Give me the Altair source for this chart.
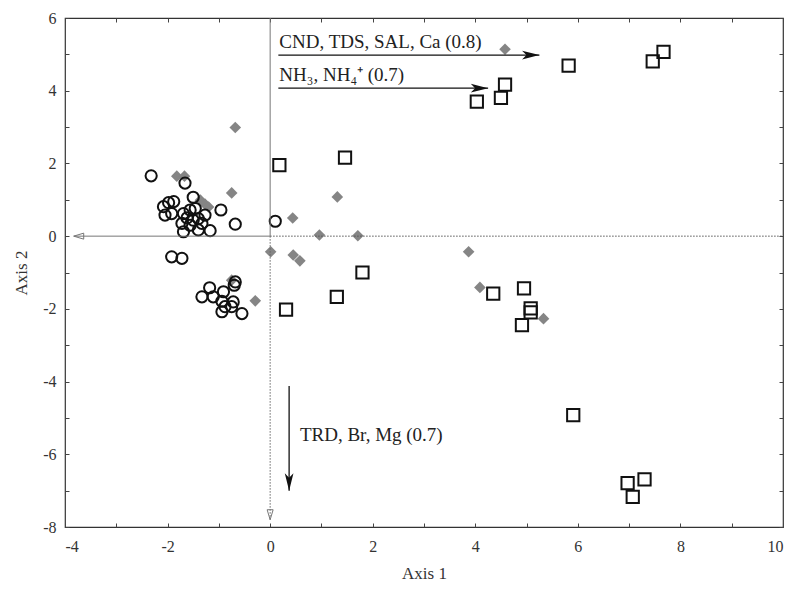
import altair as alt
import pandas as pd

# ---------------- data ----------------
circle_x = [-2.32, -1.66, -1.50, -0.96, -0.68, 0.10, -1.98, -2.08, -1.92, -2.05, -1.69, -1.72,
            -1.69, -1.56, -1.50, -1.33, -1.40, -1.17, -1.27, -1.56, -1.46, -1.88, -1.62, -1.40,
            -1.92, -1.72, -1.18, -1.33, -1.11, -0.91, -0.94, -0.88, -0.72, -0.75, -0.94, -0.55,
            -0.68, -0.70]
circle_y = [1.66, 1.46, 1.07, 0.72, 0.33, 0.41, 0.92, 0.81, 0.62, 0.58, 0.62, 0.35,
            0.12, 0.72, 0.44, 0.35, 0.17, 0.15, 0.58, 0.30, 0.76, 0.95, 0.50, 0.48,
            -0.57, -0.61, -1.42, -1.67, -1.67, -1.53, -1.79, -1.94, -1.81, -1.94, -2.08, -2.13,
            -1.26, -1.35]

square_x = [0.18, 1.46, 1.80, 1.30, 0.31, 5.82, 7.46, 7.67, 4.58, 4.50, 4.03, 4.35, 4.95,
            5.08, 5.08, 4.91, 5.91, 6.97, 7.30, 7.07]
square_y = [1.95, 2.16, -1.00, -1.67, -2.02, 4.69, 4.81, 5.07, 4.17, 3.80, 3.70, -1.58, -1.44,
            -1.99, -2.10, -2.45, -4.92, -6.79, -6.69, -7.17]

diamond_x = [-0.68, -1.82, -1.67, -0.75, -1.36, -1.27, -1.20, 0.44, 0.96, 1.71, 1.31, 0.01,
             0.45, 0.58, -0.29, -0.75, 4.58, 3.87, 4.09, 5.33]
diamond_y = [2.99, 1.65, 1.65, 1.19, 0.99, 0.88, 0.80, 0.50, 0.03, 0.01, 1.08, -0.43,
             -0.52, -0.68, -1.78, -1.21, 5.14, -0.43, -1.41, -2.27]

# environmental vectors (biplot arrows)
vec_label = ["CND, TDS, SAL, Ca (0.8)", "NH\u2083, NH\u2084\u207a (0.7)", "TRD, Br, Mg (0.7)"]
vec_x0 = [0.16, 0.16, 0.37]
vec_y0 = [4.98, 4.07, -4.12]
vec_x1 = [5.25, 4.25, 0.37]
vec_y1 = [4.98, 4.07, -7.00]
vec_lx = [0.18, 0.18, 0.58]
vec_ly = [4.98, 4.07, -5.47]

# axis arrows (grey, open heads)
axis_arrow_x1 = [-3.83, 0.0]
axis_arrow_y1 = [0.0, -7.80]

x_ticks_major = [-4, -2, 0, 2, 4, 6, 8, 10]
y_ticks_major = [-8, -6, -4, -2, 0, 2, 4, 6]
x_ticks_minor = list(range(-4, 11))
y_ticks_minor = list(range(-8, 7))

FONT = "Liberation Serif"

# ---------------- frames ----------------
df_c = pd.DataFrame({"x": circle_x, "y": circle_y})
df_s = pd.DataFrame({"x": square_x, "y": square_y})
df_d = pd.DataFrame({"x": diamond_x, "y": diamond_y})
df_v = pd.DataFrame({"label": vec_label, "x0": vec_x0, "y0": vec_y0,
                     "x1": vec_x1, "y1": vec_y1, "lx": vec_lx, "ly": vec_ly})
df_vh = df_v.iloc[:2]
df_vv = df_v.iloc[2:]
df_a = pd.DataFrame({"x0": [0.0, 0.0], "y0": [0.0, 0.0],
                     "x1": axis_arrow_x1, "y1": axis_arrow_y1})

xs = alt.Scale(domain=[-4, 10], nice=False, zero=False)
ys = alt.Scale(domain=[-8, 6], nice=False, zero=False)

hyphen = "replace(datum.label, '\u2212', '-')"
label_x_axis = alt.Axis(values=x_ticks_major, ticks=False, domain=False, grid=False,
                        labelPadding=11, title="Axis 1", titlePadding=11, labelExpr=hyphen,
                        labelFont=FONT, titleFont=FONT, labelFontSize=16, titleFontSize=17,
                        labelColor="#333", titleColor="#333", titleFontWeight="normal")
label_y_axis = alt.Axis(values=y_ticks_major, ticks=False, domain=False, grid=False,
                        labelPadding=9, title="Axis 2", titlePadding=12, labelExpr=hyphen,
                        labelFont=FONT, titleFont=FONT, labelFontSize=16, titleFontSize=17,
                        labelColor="#333", titleColor="#333", titleFontWeight="normal")


def tick_axis(orient, vals):
    return alt.Axis(orient=orient, values=vals, labels=False, domain=False, grid=False,
                    ticks=True, tickSize=4, offset=-4, tickColor="#444", tickWidth=1,
                    title=None)


diamonds = alt.Chart(df_d).mark_point(shape="diamond", filled=True, color="#858585",
                                      size=135, opacity=1).encode(
    x=alt.X("x:Q", scale=xs, axis=label_x_axis),
    y=alt.Y("y:Q", scale=ys, axis=label_y_axis),
)

circles = alt.Chart(df_c).mark_point(shape="circle", filled=False, color="#111",
                                     size=125, strokeWidth=2, opacity=1).encode(
    x=alt.X("x:Q", scale=xs, axis=tick_axis("bottom", x_ticks_minor)),
    y=alt.Y("y:Q", scale=ys, axis=tick_axis("left", y_ticks_minor)),
)

squares = alt.Chart(df_s).mark_point(shape="square", filled=False, color="#111",
                                     size=150, strokeWidth=2, opacity=1).encode(
    x=alt.X("x:Q", scale=xs, axis=tick_axis("top", x_ticks_minor)),
    y=alt.Y("y:Q", scale=ys, axis=tick_axis("right", y_ticks_minor)),
)

noax_x = lambda f: alt.X(f, scale=xs, axis=None)
noax_y = lambda f: alt.Y(f, scale=ys, axis=None)

# zero lines: dotted across, solid where grey arrows run
zero_h_dot = alt.Chart(df_a.iloc[:1]).mark_rule(color="#555", strokeWidth=1,
                                                strokeDash=[1.5, 1.5]).encode(
    x=alt.X("x0:Q", scale=xs, axis=None), x2=alt.value(718),
    y=noax_y("y0:Q"))
zero_v_dot = alt.Chart(df_a.iloc[1:]).mark_rule(color="#666", strokeWidth=1,
                                                strokeDash=[1.5, 1.5]).encode(
    x=noax_x("x0:Q"), y=alt.Y("y0:Q", scale=ys, axis=None), y2="y1:Q")
zero_v_solid = alt.Chart(df_a.iloc[1:]).mark_rule(color="#777", strokeWidth=1).encode(
    x=noax_x("x0:Q"), y=alt.Y("y0:Q", scale=ys, axis=None), y2=alt.value(0))
axis_arrow_h = alt.Chart(df_a.iloc[:1]).mark_rule(color="#777", strokeWidth=1).encode(
    x=noax_x("x0:Q"), x2="x1:Q", y=noax_y("y0:Q"))

open_left = "M0,0 L2,-0.6 L2,0.6 Z"
open_down = "M0,0 L-0.6,-2 L0.6,-2 Z"
head_h_grey = alt.Chart(df_a.iloc[:1]).mark_point(shape=open_left, filled=False, color="#777",
                                                  size=100, strokeWidth=1, opacity=1).encode(
    x=noax_x("x1:Q"), y=noax_y("y1:Q"))
head_v_grey = alt.Chart(df_a.iloc[1:]).mark_point(shape=open_down, filled=False, color="#777",
                                                  size=100, strokeWidth=1, opacity=1).encode(
    x=noax_x("x1:Q"), y=noax_y("y1:Q"))

# black environmental vectors
vec_h = alt.Chart(df_vh).mark_rule(color="#111", strokeWidth=1.3).encode(
    x=noax_x("x0:Q"), x2="x1:Q", y=noax_y("y0:Q"))
vec_v = alt.Chart(df_vv).mark_rule(color="#111", strokeWidth=1.3).encode(
    x=noax_x("x0:Q"), y=noax_y("y0:Q"), y2="y1:Q")
dart_right = "M0,0 L-2,-0.5 L-1.5,0 L-2,0.5 Z"
dart_down = "M0,0 L-0.5,-2 L0,-1.5 L0.5,-2 Z"
head_h = alt.Chart(df_vh).mark_point(shape=dart_right, filled=True, color="#111",
                                     size=300, opacity=1).encode(
    x=noax_x("x1:Q"), y=noax_y("y1:Q"))
head_v = alt.Chart(df_vv).mark_point(shape=dart_down, filled=True, color="#111",
                                     size=300, opacity=1).encode(
    x=noax_x("x1:Q"), y=noax_y("y1:Q"))

lab_h = alt.Chart(df_vh).mark_text(align="left", baseline="alphabetic", dy=-7, font=FONT,
                                   fontSize=19, color="#222").encode(
    x=noax_x("lx:Q"), y=noax_y("ly:Q"), text="label:N")
lab_v = alt.Chart(df_vv).mark_text(align="left", baseline="middle", font=FONT,
                                   fontSize=19, color="#222").encode(
    x=noax_x("lx:Q"), y=noax_y("ly:Q"), text="label:N")

chart = alt.layer(
    diamonds, circles, squares,
    zero_h_dot, zero_v_dot, zero_v_solid, axis_arrow_h, head_h_grey, head_v_grey,
    vec_h, vec_v, head_h, head_v, lab_h, lab_v,
).resolve_axis(x="independent", y="independent").properties(
    width=718, height=509,
    autosize=alt.AutoSizeParams(type="none"),
    padding={"left": 65, "top": 18, "right": 14, "bottom": 63},
    background="white",
).configure_view(stroke="#333", strokeWidth=1.2)

chart.save("out.html", embed_options={"renderer": "svg", "actions": False})
